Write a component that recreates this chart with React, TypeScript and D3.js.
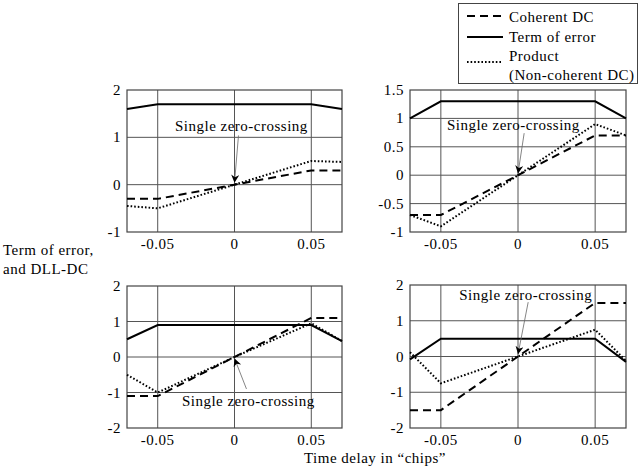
import React, { useEffect, useRef } from 'react';
import * as d3 from 'd3';

// shared x positions (chips) and tick labels
const X_VALUES = [-0.07, -0.05, 0, 0.05, 0.07];
const X_TICKS = [-0.05, 0, 0.05];

// top-left panel
const A_ERROR = [1.6, 1.7, 1.7, 1.7, 1.6];
const A_COHERENT = [-0.3, -0.3, 0, 0.3, 0.3];
const A_PRODUCT = [-0.45, -0.5, 0, 0.5, 0.48];
const A_TICKS = [-1, 0, 1, 2];

// top-right panel
const B_ERROR = [1.0, 1.3, 1.3, 1.3, 1.0];
const B_COHERENT = [-0.7, -0.7, 0, 0.7, 0.7];
const B_PRODUCT = [-0.7, -0.9, 0, 0.9, 0.7];
const B_TICKS = [-1, -0.5, 0, 0.5, 1, 1.5];

// bottom-left panel
const C_ERROR = [0.5, 0.9, 0.9, 0.9, 0.45];
const C_COHERENT = [-1.1, -1.1, 0, 1.1, 1.1];
const C_PRODUCT = [-0.5, -1.0, 0, 0.95, 0.45];
const C_TICKS = [-2, -1, 0, 1, 2];

// bottom-right panel
const D_ERROR = [-0.08, 0.5, 0.5, 0.5, -0.15];
const D_COHERENT = [-1.5, -1.5, 0, 1.5, 1.5];
const D_PRODUCT = [0.12, -0.75, 0, 0.75, -0.12];
const D_TICKS = [-2, -1, 0, 1, 2];

const ANNOTATION = 'Single zero-crossing';
const LEGEND = ['Coherent DC', 'Term of error', 'Product', '(Non-coherent DC)'];

const FONT = '"Liberation Serif", "DejaVu Serif", serif';
const DASH = '8,5';
const DOT = '1.6,2';

interface Panel {
  left: number; right: number; top: number; bottom: number;
  yDomain: [number, number];
  yTicks: number[];
  error: number[]; coherent: number[]; product: number[];
  label: [number, number];
  arrowFrom: [number, number];
  arrowTo: [number, number];
}

const panels: Panel[] = [
  { left: 127, right: 342, top: 90, bottom: 232, yDomain: [-1, 2], yTicks: A_TICKS,
    error: A_ERROR, coherent: A_COHERENT, product: A_PRODUCT,
    label: [0.0045, 1.23], arrowFrom: [0.0026, 1.04], arrowTo: [0, 0.04] },
  { left: 410, right: 626, top: 90, bottom: 232, yDomain: [-1, 1.5], yTicks: B_TICKS,
    error: B_ERROR, coherent: B_COHERENT, product: B_PRODUCT,
    label: [-0.003, 0.88], arrowFrom: [0.004, 0.74], arrowTo: [0, 0.03] },
  { left: 127, right: 342, top: 286, bottom: 428, yDomain: [-2, 2], yTicks: C_TICKS,
    error: C_ERROR, coherent: C_COHERENT, product: C_PRODUCT,
    label: [0.009, -1.24], arrowFrom: [0.0078, -0.9], arrowTo: [0, -0.04] },
  { left: 410, right: 626, top: 285, bottom: 428, yDomain: [-2, 2], yTicks: D_TICKS,
    error: D_ERROR, coherent: D_COHERENT, product: D_PRODUCT,
    label: [0.005, 1.72], arrowFrom: [0.0066, 1.52], arrowTo: [0, 0.06] },
];

export default function App() {
  const svgRef = useRef<SVGSVGElement>(null);

  useEffect(() => {
    if (!svgRef.current) return;
    const svg = d3.select(svgRef.current);
    svg.selectAll('*').remove();

    svg.append('defs').append('marker')
      .attr('id', 'head')
      .attr('viewBox', '0 0 10 10')
      .attr('refX', 10).attr('refY', 5)
      .attr('markerWidth', 11).attr('markerHeight', 8)
      .attr('markerUnits', 'userSpaceOnUse')
      .attr('orient', 'auto')
      .append('path')
      .attr('d', 'M0,0 L10,5 L0,10 L3,5 Z')
      .attr('fill', '#000');

    panels.forEach(p => {
      const x = d3.scaleLinear().domain([-0.07, 0.07]).range([p.left, p.right]);
      const y = d3.scaleLinear().domain(p.yDomain).range([p.bottom, p.top]);
      const g = svg.append('g');

      // grid
      g.selectAll('.vg').data(X_TICKS).enter().append('line')
        .attr('x1', d => x(d)).attr('x2', d => x(d))
        .attr('y1', p.top).attr('y2', p.bottom)
        .attr('stroke', '#555').attr('stroke-width', 1);
      g.selectAll('.hg').data(p.yTicks.slice(1, -1)).enter().append('line')
        .attr('x1', p.left).attr('x2', p.right)
        .attr('y1', d => y(d)).attr('y2', d => y(d))
        .attr('stroke', '#555').attr('stroke-width', 1);
      g.append('rect')
        .attr('x', p.left).attr('y', p.top)
        .attr('width', p.right - p.left).attr('height', p.bottom - p.top)
        .attr('fill', 'none').attr('stroke', '#444').attr('stroke-width', 1.2);

      // tick labels
      g.selectAll('.yt').data(p.yTicks).enter().append('text')
        .attr('x', p.left - 6).attr('y', d => y(d) + 5)
        .attr('text-anchor', 'end')
        .text(d => String(d));
      g.selectAll('.xt').data(X_TICKS).enter().append('text')
        .attr('x', d => x(d)).attr('y', p.bottom + 17)
        .attr('text-anchor', 'middle')
        .text(d => String(d));

      // series
      const line = d3.line<number>().x((_, i) => x(X_VALUES[i])).y(d => y(d));
      g.append('path').attr('d', line(p.error))
        .attr('fill', 'none').attr('stroke', '#000').attr('stroke-width', 2);
      g.append('path').attr('d', line(p.coherent))
        .attr('fill', 'none').attr('stroke', '#000').attr('stroke-width', 2)
        .attr('stroke-dasharray', DASH);
      g.append('path').attr('d', line(p.product))
        .attr('fill', 'none').attr('stroke', '#000').attr('stroke-width', 2)
        .attr('stroke-dasharray', DOT);

      // annotation
      g.append('line')
        .attr('x1', x(p.arrowFrom[0])).attr('y1', y(p.arrowFrom[1]))
        .attr('x2', x(p.arrowTo[0])).attr('y2', y(p.arrowTo[1]))
        .attr('stroke', '#666').attr('stroke-width', 0.8)
        .attr('marker-end', 'url(#head)');
      g.append('text')
        .attr('x', x(p.label[0])).attr('y', y(p.label[1]) + 5)
        .attr('text-anchor', 'middle')
        .text(ANNOTATION);
    });

    // legend
    const lg = svg.append('g');
    lg.append('rect').attr('x', 458.5).attr('y', 3.5).attr('width', 179).attr('height', 80)
      .attr('fill', '#fff').attr('stroke', '#444').attr('stroke-width', 1);
    const styles = [DASH, null, DOT];
    const lineY = [16, 37, 62];
    styles.forEach((s, i) => {
      lg.append('line').attr('x1', 467).attr('x2', 503)
        .attr('y1', lineY[i]).attr('y2', lineY[i])
        .attr('stroke', '#000').attr('stroke-width', 2)
        .attr('stroke-dasharray', s);
    });
    const textY = [22, 42, 61, 80];
    LEGEND.forEach((t, i) => {
      lg.append('text').attr('x', 509).attr('y', textY[i]).text(t);
    });

    // axis titles
    svg.append('text').attr('x', 3).attr('y', 255).text('Term of error,');
    svg.append('text').attr('x', 3).attr('y', 274).text('and DLL-DC');
    svg.append('text').attr('x', 375).attr('y', 463).attr('text-anchor', 'middle')
      .text('Time delay in \u201Cchips\u201D');
  }, []);

  return (
    <svg ref={svgRef} width={640} height={468}
      style={{ position: 'absolute', left: 0, top: 0, background: '#fff',
        fontFamily: FONT, fontSize: 15, letterSpacing: 0.5, fill: '#000' }} />
  );
}
